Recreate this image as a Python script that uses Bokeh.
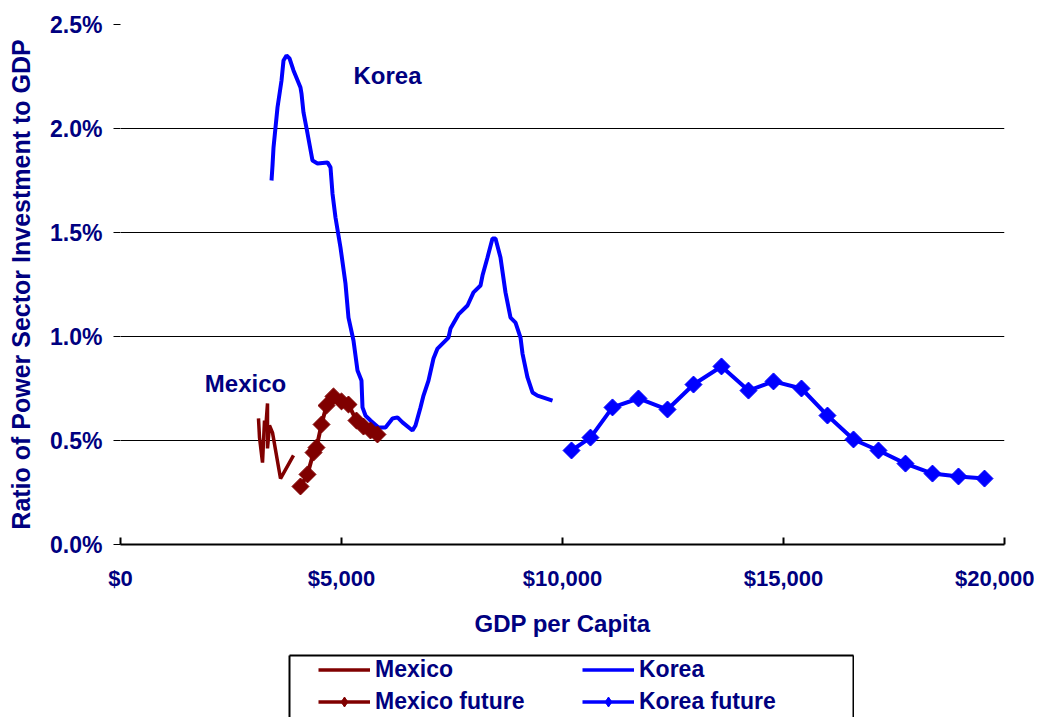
import math
from bokeh.plotting import figure
from bokeh.layouts import column, row
from bokeh.models import (Range1d, NumeralTickFormatter, PrintfTickFormatter, FixedTicker,
                          Legend, LegendItem, Label, Spacer, LinearAxis)
from bokeh.embed import file_html
from bokeh.resources import INLINE

# ---- data (GDP per capita in $, ratio in %) ----
korea_x = [3417, 3439, 3462, 3552, 3643, 3688, 3756, 3824, 3914, 4072, 4095, 4140, 4231, 4344,
           4457, 4683, 4751, 4796, 4864, 4977, 5090, 5158, 5271, 5362, 5452, 5475, 5543, 5656,
           5837, 5995, 6154, 6267, 6380, 6606, 6674, 6787, 6855, 6968, 7081, 7172, 7421, 7466,
           7647, 7851, 7986, 8145, 8190, 8303, 8416, 8484, 8597, 8710, 8824, 8937, 9050, 9095,
           9208, 9321, 9434, 9774]
korea_y = [1.750, 1.822, 1.909, 2.101, 2.231, 2.327, 2.351, 2.337, 2.279, 2.197, 2.168, 2.077,
           1.976, 1.846, 1.832, 1.837, 1.813, 1.688, 1.572, 1.428, 1.255, 1.091, 0.981, 0.837,
           0.788, 0.659, 0.620, 0.596, 0.563, 0.563, 0.606, 0.611, 0.587, 0.548, 0.572, 0.659,
           0.716, 0.788, 0.894, 0.942, 0.995, 1.038, 1.106, 1.149, 1.212, 1.245, 1.293, 1.380,
           1.471, 1.471, 1.380, 1.212, 1.091, 1.067, 0.995, 0.918, 0.803, 0.731, 0.716, 0.692]

korea_future_x = [10204, 10633, 11131, 11719, 12376, 12964, 13597, 14208, 14774, 15407, 15995,
                  16584, 17149, 17760, 18371, 18959, 19548]
korea_future_y = [0.452, 0.514, 0.659, 0.702, 0.649, 0.769, 0.856, 0.740, 0.784, 0.750, 0.620,
                  0.505, 0.452, 0.389, 0.341, 0.327, 0.317]

mexico_x = [3122, 3145, 3213, 3258, 3281, 3326, 3326, 3371, 3439, 3620, 3914]
mexico_y = [0.606, 0.514, 0.394, 0.596, 0.548, 0.678, 0.462, 0.572, 0.538, 0.317, 0.428]

mexico_future_x = [4072, 4231, 4367, 4434, 4548, 4661, 4819, 5000, 5158, 5339, 5498, 5656, 5814]
mexico_future_y = [0.279, 0.337, 0.442, 0.466, 0.577, 0.668, 0.712, 0.688, 0.673, 0.596, 0.567,
                   0.548, 0.529]

x_ticks = [0, 5000, 10000, 15000, 20000]
y_ticks = [0.0, 0.5, 1.0, 1.5, 2.0, 2.5]
series_names = ["Mexico", "Mexico future", "Korea", "Korea future"]

FONT = "Liberation Sans"
NAVY = "#000080"
KOREA_C = "#0000FF"
MEXICO_C = "#800000"
DIAMOND = dict(marker="square", angle=math.pi / 4, size=12)
LEG_DIAMOND = dict(marker="diamond", size=15)

p = figure(width=1034, height=654, output_backend="svg", toolbar_location=None,
           x_range=Range1d(0, 20000), y_range=Range1d(0, 2.5),
           min_border_left=120, min_border_right=30, min_border_top=24, min_border_bottom=110)
p.outline_line_color = None
p.background_fill_color = "white"
p.border_fill_color = "white"

# grid
p.xgrid.grid_line_color = None
p.ygrid.grid_line_color = "black"
p.ygrid.grid_line_width = 1
p.ygrid.ticker = FixedTicker(ticks=y_ticks)

# x axis
xa = p.xaxis[0]
xa.ticker = FixedTicker(ticks=x_ticks)
xa.formatter = NumeralTickFormatter(format="$0,0")
xa.axis_line_color = "black"
xa.axis_line_width = 2
xa.major_tick_in = 7
xa.major_tick_out = 0
xa.major_tick_line_width = 2
xa.minor_tick_line_color = None
xa.major_label_standoff = 21
xa.major_label_text_font = FONT
xa.major_label_text_font_style = "bold"
xa.major_label_text_font_size = "22px"
xa.major_label_text_color = NAVY
xa.axis_label = "GDP per Capita"
xa.axis_label_text_font = FONT
xa.axis_label_text_font_style = "bold"
xa.axis_label_text_font_size = "24px"
xa.axis_label_text_color = NAVY
xa.axis_label_standoff = 16

# y axis
ya = p.yaxis[0]
ya.ticker = FixedTicker(ticks=y_ticks)
ya.formatter = PrintfTickFormatter(format="%.1f%%")
ya.axis_line_color = None
ya.major_tick_in = 0
ya.major_tick_out = 7
ya.major_tick_line_width = 1
ya.minor_tick_line_color = None
ya.major_label_standoff = 11
ya.major_label_text_font = FONT
ya.major_label_text_font_style = "bold"
ya.major_label_text_font_size = "23px"
ya.major_label_text_color = NAVY
ya.axis_label = "Ratio of Power Sector Investment to GDP"
ya.axis_label_text_font = FONT
ya.axis_label_text_font_style = "bold"
ya.axis_label_text_font_size = "25px"
ya.axis_label_text_color = NAVY
ya.axis_label_standoff = 12

# series
p.line(mexico_x, mexico_y, line_color=MEXICO_C, line_width=3.5)
p.line(korea_x, korea_y, line_color=KOREA_C, line_width=4)
p.line(mexico_future_x, mexico_future_y, line_color=MEXICO_C, line_width=4)
p.scatter(mexico_future_x, mexico_future_y, fill_color=MEXICO_C, line_color=MEXICO_C, **DIAMOND)
p.line(korea_future_x, korea_future_y, line_color=KOREA_C, line_width=4)
p.scatter(korea_future_x, korea_future_y, fill_color=KOREA_C, line_color=KOREA_C, **DIAMOND)

# annotations
for txt, lx, ly in [("Korea", 6041, 2.255), ("Mexico", 2828, 0.774)]:
    p.add_layout(Label(x=lx, y=ly, text=txt, text_align="center", text_baseline="middle",
                       text_font=FONT, text_font_style="bold", text_font_size="24px",
                       text_color=NAVY))

# ---- legend panel: small figure; its left/top/right axis lines form the open box ----
lg = figure(width=566, height=63, output_backend="svg", toolbar_location=None,
            x_range=Range1d(0, 1), y_range=Range1d(0, 1),
            x_axis_location="above", y_axis_location="left",
            min_border_left=1, min_border_right=1, min_border_top=1, min_border_bottom=0)
lg.add_layout(LinearAxis(), "right")
for ax in lg.axis:
    ax.ticker = FixedTicker(ticks=[])
    ax.major_tick_line_color = None
    ax.minor_tick_line_color = None
    ax.major_label_text_color = None
    ax.axis_line_color = "black"
    ax.axis_line_width = 2
lg.grid.visible = False
lg.outline_line_color = None
lg.background_fill_color = "white"
lg.border_fill_color = "white"

# legend proxies (same series, drawn outside this panel's visible range)
l_mex = lg.line(mexico_x, mexico_y, line_color=MEXICO_C, line_width=3.5)
l_mexf = lg.line(mexico_future_x, mexico_future_y, line_color=MEXICO_C, line_width=3.5)
m_mexf = lg.scatter(mexico_future_x, mexico_future_y, fill_color=MEXICO_C, line_color=MEXICO_C,
                    **LEG_DIAMOND)
l_kor = lg.line(korea_x, korea_y, line_color=KOREA_C, line_width=3.5)
l_korf = lg.line(korea_future_x, korea_future_y, line_color=KOREA_C, line_width=3.5)
m_korf = lg.scatter(korea_future_x, korea_future_y, fill_color=KOREA_C, line_color=KOREA_C,
                    **LEG_DIAMOND)

items = [
    LegendItem(label=series_names[0], renderers=[l_mex]),
    LegendItem(label=series_names[1], renderers=[l_mexf, m_mexf]),
    LegendItem(label=series_names[2], renderers=[l_kor]),
    LegendItem(label=series_names[3], renderers=[l_korf, m_korf]),
]
legend = Legend(items=items, location=(29, 2), orientation="vertical", ncols=2,
                glyph_width=52, glyph_height=25, label_height=25, label_width=202,
                label_standoff=5, spacing=5, padding=2, margin=0,
                border_line_color=None, background_fill_alpha=0,
                label_text_font=FONT, label_text_font_style="bold",
                label_text_font_size="23px", label_text_color=NAVY)
lg.add_layout(legend, "center")

layout = column(p, row(Spacer(width=288, height=63), lg))

open("out.html", "w").write(file_html(layout, INLINE))
